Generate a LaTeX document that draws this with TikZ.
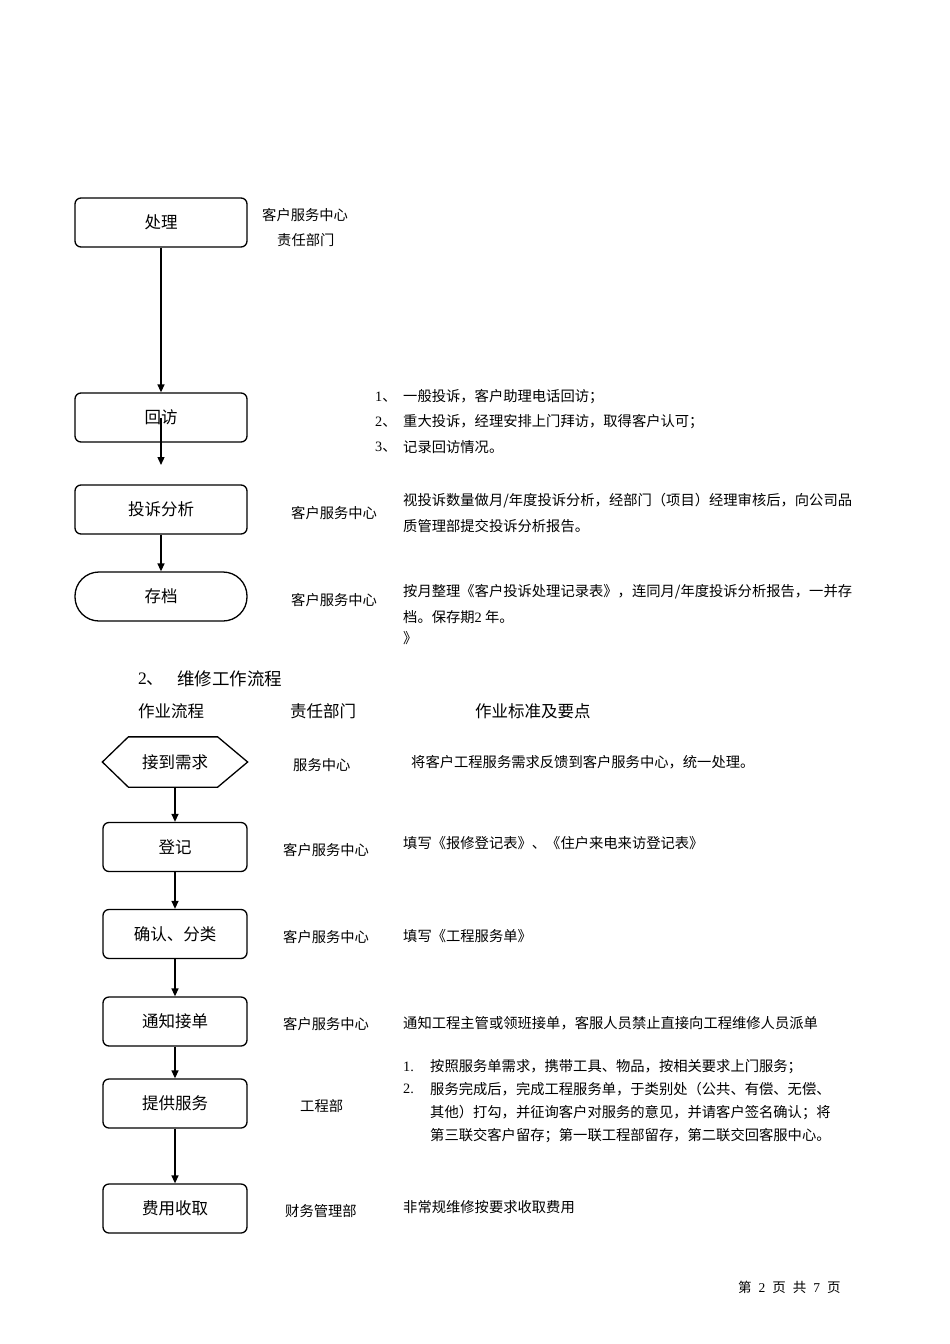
\documentclass[tikz,border=0pt]{standalone}
\usepackage{fontspec}
\setmainfont{Liberation Serif}
\newfontfamily\cjk{Noto Sans CJK SC}
\usetikzlibrary{arrows.meta}

\tikzset{
  box/.style={draw, line width=1.3pt, rounded corners=6pt, minimum height=49pt,
    inner sep=0pt, font=\cjk\fontsize{16.5}{16.5}\selectfont},
  widebox/.style={box, minimum width=172pt},
  narrowbox/.style={box, minimum width=144pt},
  txt/.style={anchor=west, inner sep=0pt, font=\cjk\fontsize{14.3}{14.3}\selectfont},
  head/.style={anchor=west, inner sep=0pt, font=\cjk\fontsize{16.5}{16.5}\selectfont},
  arr/.style={line width=1.3pt, -{Triangle[length=8pt,width=7pt]}}
}

\begin{document}
\begin{tikzpicture}[x=1pt, y=-1pt]
\useasboundingbox[fill=white] (0,0) rectangle (950,1344);

% Complaint flow (continued)
\node[widebox] (cl) at (161,222.5) {处理};
\node[widebox] (hf) at (161,417.5) {回访};
\node[widebox] (fx) at (161,509.5) {投诉分析};
\node[widebox, rounded corners=24pt] (cd) at (161,596.5) {存档};
\coordinate (hfa) at (161,465);

\draw[arr] (cl.south) -- (hf.north);
\draw[arr] (hf.center) -- (hfa);
\draw[arr] (fx.south) -- (cd.north);

% Departments
\node[txt] (d1) at (262,215) {客户服务中心};
\node[txt] (d2) at (277,240) {责任部门};
\node[txt] (d3) at (291,513) {客户服务中心};
\node[txt] (d4) at (291,600) {客户服务中心};

% Standards
\node[txt] (n1) at (375,397) {\textrm{1}、};
\node[txt] (n2) at (375,422) {\textrm{2}、};
\node[txt] (n3) at (375,447) {\textrm{3}、};
\node[txt] (s1) at (403,397) {一般投诉，客户助理电话回访；};
\node[txt] (s2) at (403,422) {重大投诉，经理安排上门拜访，取得客户认可；};
\node[txt] (s3) at (403,447) {记录回访情况。};
\node[txt] (s4) at (403,501) {视投诉数量做月/年度投诉分析，经部门（项目）经理审核后，向公司品};
\node[txt] (s5) at (403,526) {质管理部提交投诉分析报告。};
\node[txt] (s6) at (403,592) {按月整理《客户投诉处理记录表》，连同月/年度投诉分析报告，一并存};
\node[txt] (s7) at (403,617) {档。保存期\textrm{2} 年。};
\node[txt] (s8) at (403,638) {》};

% Section 2 heading
\node[head, font=\cjk\fontsize{17.5}{17.5}\selectfont] (h0) at (138,679) {\textrm{2}、};
\node[head, font=\cjk\fontsize{17.5}{17.5}\selectfont] (h1) at (177,679) {维修工作流程};
\node[head] (h2) at (138,711) {作业流程};
\node[head] (h3) at (290,711) {责任部门};
\node[head] (h4) at (475,711) {作业标准及要点};

% Repair flow
\node[narrowbox, draw=none] (jd) at (175,762) {接到需求};
\draw[line width=1.3pt] (jd.west) -- ([xshift=26pt]jd.north west) -- ([xshift=-30pt]jd.north east)
  -- (jd.east) -- ([xshift=-30pt]jd.south east) -- ([xshift=26pt]jd.south west) -- cycle;
\node[narrowbox] (dj) at (175,847) {登记};
\node[narrowbox] (qr) at (175,934) {确认、分类};
\node[narrowbox] (tz) at (175,1021.5) {通知接单};
\node[narrowbox] (tg) at (175,1103.5) {提供服务};
\node[narrowbox] (fy) at (175,1208.5) {费用收取};

\draw[arr] (jd.south) -- (dj.north);
\draw[arr] (dj.south) -- (qr.north);
\draw[arr] (qr.south) -- (tz.north);
\draw[arr] (tz.south) -- (tg.north);
\draw[arr] (tg.south) -- (fy.north);

% Departments
\node[txt] (e1) at (293,765) {服务中心};
\node[txt] (e2) at (283,850) {客户服务中心};
\node[txt] (e3) at (283,937) {客户服务中心};
\node[txt] (e4) at (283,1024) {客户服务中心};
\node[txt] (e5) at (300,1106) {工程部};
\node[txt] (e6) at (285,1211) {财务管理部};

% Standards
\node[txt] (t1) at (411,762) {将客户工程服务需求反馈到客户服务中心，统一处理。};
\node[txt] (t2) at (403,843) {填写《报修登记表》、《住户来电来访登记表》};
\node[txt] (t3) at (403,936) {填写《工程服务单》};
\node[txt] (t4) at (403,1023) {通知工程主管或领班接单，客服人员禁止直接向工程维修人员派单};
\node[txt] (m1) at (403,1067) {\textrm{1.}};
\node[txt] (m2) at (403,1089) {\textrm{2.}};
\node[txt] (t5) at (430,1067) {按照服务单需求，携带工具、物品，按相关要求上门服务；};
\node[txt] (t6) at (430,1089) {服务完成后，完成工程服务单，于类别处（公共、有偿、无偿、};
\node[txt] (t7) at (430,1113) {其他）打勾，并征询客户对服务的意见，并请客户签名确认；将};
\node[txt] (t8) at (430,1136) {第三联交客户留存；第一联工程部留存，第二联交回客服中心。};
\node[txt] (t9) at (403,1207) {非常规维修按要求收取费用};

% Footer
\node[txt, font=\cjk\fontsize{13.5}{13.5}\selectfont] (pg) at (738,1287)
  {第\hspace{7pt}\textrm{2}\hspace{7pt}页\hspace{7pt}共\hspace{7pt}\textrm{7}\hspace{7pt}页};
\end{tikzpicture}
\end{document}
